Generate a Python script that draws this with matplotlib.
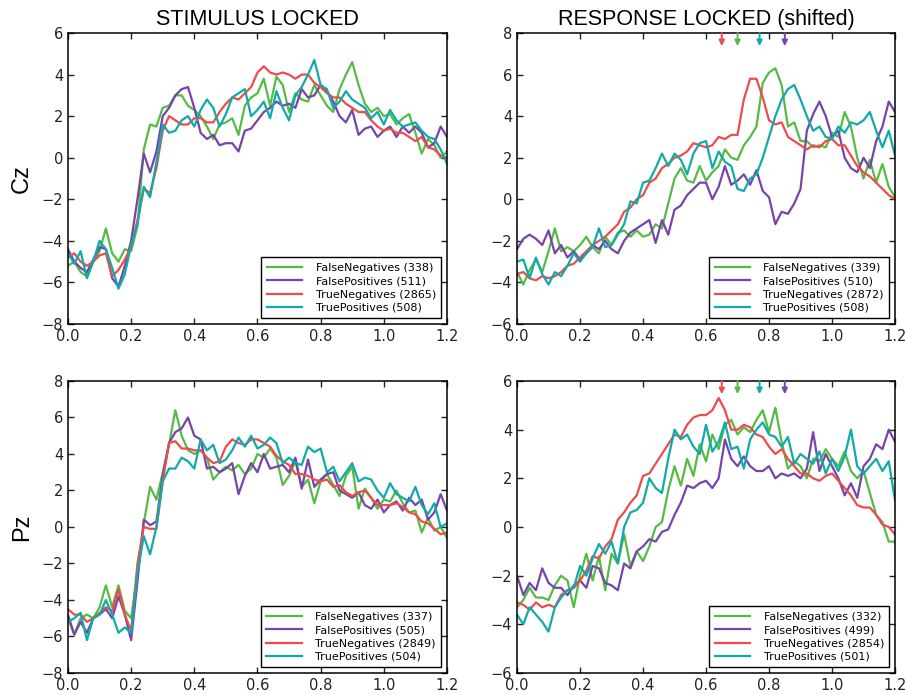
import matplotlib.pyplot as plt
import numpy as np

# time axis (s), one sample every 20 ms
t = np.linspace(0.0, 1.2, 61)

names = ['FalseNegatives', 'FalsePositives', 'TrueNegatives', 'TruePositives']
colors = ['#55bb44', '#7744aa', '#ee4c4c', '#11aaaa']

# mean response times, marked with arrows on the response locked plots
rt_marks = [0.65, 0.70, 0.77, 0.85]
rt_colors = ['#ee4c4c', '#55bb44', '#11aaaa', '#7744aa']

# ---- Cz, stimulus locked
cz_stim_fn = [-5.2, -5.0, -5.5, -5.7, -5.0, -4.5, -3.4, -4.6, -5.0, -4.4,
              -4.5, -3.3, 0.4, 1.6, 1.5, 2.4, 2.5, 3.0, 3.0, 2.5,
              2.3, 2.0, 1.5, 0.9, 1.6, 1.7, 1.9, 1.1, 2.5, 2.9,
              3.1, 3.8, 2.5, 3.9, 3.5, 2.2, 3.1, 2.8, 2.7, 3.5,
              3.0, 2.5, 2.2, 3.3, 4.0, 4.6, 3.5, 2.6, 2.2, 2.4,
              2.0, 2.1, 1.6, 1.9, 2.1, 1.2, 0.2, 0.9, 0.6, 0.0, 0.3]
cz_stim_fp = [-4.4, -5.0, -5.3, -5.5, -4.9, -4.3, -4.4, -5.8, -6.2, -5.2,
              -4.0, -2.0, 0.2, -0.7, 0.3, 2.0, 2.4, 3.0, 3.3, 3.4,
              2.4, 1.2, 0.9, 1.1, 0.6, 0.7, 0.7, 0.3, 1.3, 1.4,
              1.8, 2.2, 2.4, 2.7, 2.5, 2.6, 2.4, 3.3, 2.9, 3.0,
              3.5, 3.2, 2.7, 2.0, 1.7, 2.3, 1.1, 1.4, 1.5, 1.0,
              1.3, 1.5, 1.0, 1.5, 1.2, 1.5, 1.2, 0.5, 0.7, 1.5, 1.0]
cz_stim_tn = [-4.8, -4.6, -5.0, -5.2, -5.0, -4.7, -4.6, -5.7, -5.4, -4.9,
              -4.3, -3.0, -1.5, -1.7, -0.5, 1.3, 2.0, 1.8, 1.6, 1.6,
              1.9, 1.9, 1.7, 1.7, 2.2, 2.6, 2.9, 2.8, 3.1, 3.4,
              4.1, 4.4, 4.1, 4.0, 4.1, 4.0, 3.8, 4.0, 4.0, 3.6,
              3.4, 3.1, 2.9, 2.9, 2.6, 2.4, 2.2, 2.2, 1.8, 1.5,
              1.3, 1.4, 1.2, 1.2, 1.0, 0.8, 1.0, 0.5, 0.4, 0.1, 0.0]
cz_stim_tp = [-4.6, -5.1, -4.5, -5.8, -5.0, -4.0, -4.4, -5.3, -6.3, -5.6,
              -4.2, -3.2, -1.4, -1.9, -0.2, 1.6, 1.2, 1.3, 1.8, 2.0,
              1.5, 2.3, 2.8, 2.4, 1.5, 2.1, 2.9, 3.1, 3.3, 2.0,
              2.3, 2.7, 1.9, 3.2, 2.4, 1.8, 3.0, 3.4, 4.0, 4.7,
              3.5, 3.3, 2.4, 2.7, 3.2, 2.8, 2.6, 2.4, 1.9, 2.2,
              1.6, 2.3, 1.8, 1.5, 1.6, 1.7, 1.3, 1.0, 0.9, 0.4, -0.3]

# ---- Cz, response locked
cz_resp_fn = [-3.5, -4.1, -3.4, -2.9, -3.5, -2.5, -1.4, -2.5, -2.3, -2.5,
              -2.2, -1.8, -2.3, -2.6, -1.8, -2.2, -1.6, -1.5, -1.8, -1.5,
              -1.8, -1.7, -1.2, -1.4, -0.2, 1.0, 1.5, 0.9, 0.8, 1.6,
              0.9, 1.3, 1.6, 2.4, 2.0, 1.9, 2.6, 3.0, 3.5, 5.6,
              6.1, 6.3, 5.5, 3.5, 3.7, 2.8, 2.8, 2.5, 2.6, 2.5,
              3.2, 3.0, 4.2, 3.5, 2.0, 1.0, 1.9, 0.8, 1.7, 0.6, 0.1]
cz_resp_fp = [-2.4, -1.9, -1.7, -1.9, -2.2, -1.5, -2.6, -2.2, -2.8, -2.5,
              -2.9, -2.6, -2.2, -2.4, -2.0, -2.4, -2.6, -2.0, -1.6, -1.4,
              -1.2, -1.0, -2.1, -1.0, -1.7, -0.5, -0.3, 0.2, 0.5, 0.8,
              0.8, 0.0, 0.6, 1.6, 0.7, 0.9, 1.2, 0.7, 1.4, 0.4,
              0.1, -1.2, -0.6, -0.7, -0.2, 0.5, 3.3, 4.1, 4.7, 4.0,
              3.0, 3.3, 2.0, 1.5, 1.3, 2.0, 1.5, 2.8, 3.5, 4.7, 4.2]
cz_resp_tn = [-3.6, -3.5, -3.8, -3.9, -3.7, -3.8, -3.7, -3.5, -3.2, -3.1,
              -2.8, -2.5, -2.2, -2.0, -1.8, -1.5, -1.2, -0.6, -0.4, 0.0,
              0.2, 0.8, 1.0, 1.5, 1.7, 2.0, 2.1, 2.3, 2.7, 2.6,
              2.5, 2.6, 3.0, 2.9, 3.1, 3.1, 4.8, 5.8, 5.8, 4.9,
              3.8, 3.6, 3.7, 3.0, 2.8, 2.6, 2.4, 2.6, 2.5, 2.8,
              2.9, 2.6, 2.6, 2.1, 1.6, 1.3, 1.1, 0.8, 0.5, 0.2, 0.0]
cz_resp_tp = [-3.0, -2.9, -3.8, -2.8, -3.6, -4.1, -3.5, -3.7, -3.2, -2.6,
              -3.0, -2.6, -2.3, -1.4, -2.3, -2.2, -1.7, -1.2, -0.1, -0.2,
              0.8, 0.9, 1.5, 2.2, 1.6, 2.2, 1.9, 1.2, 2.2, 2.7,
              2.8, 1.5, 2.3, 1.8, 1.6, 0.5, 0.4, 1.0, 1.2, 2.0,
              3.0, 4.0, 4.8, 5.3, 5.5, 4.8, 4.0, 3.3, 3.5, 3.0,
              2.9, 3.5, 3.2, 3.7, 3.6, 3.8, 4.2, 3.3, 2.5, 3.3, 2.1]

# ---- Pz, stimulus locked
pz_stim_fn = [-5.0, -5.9, -5.0, -4.8, -5.0, -4.4, -3.2, -4.4, -3.2, -4.6,
              -5.0, -2.5, 0.2, 2.2, 1.5, 3.0, 4.5, 6.4, 5.0, 4.2,
              4.0, 4.2, 3.8, 2.6, 3.0, 3.3, 3.1, 3.4, 2.9, 3.2,
              4.0, 3.8, 4.3, 3.8, 2.3, 2.8, 3.6, 2.2, 2.6, 1.3,
              2.5, 2.9, 2.3, 1.7, 2.8, 3.3, 1.0, 2.1, 1.6, 1.0,
              1.5, 1.4, 2.0, 1.3, 0.8, 0.9, -0.3, 0.5, -0.2, 0.0, -0.6]
pz_stim_fp = [-4.8, -5.9, -5.2, -5.8, -5.0, -4.8, -4.5, -5.0, -3.8, -4.8,
              -6.2, -3.0, 0.4, 0.1, 0.3, 2.8, 4.6, 5.2, 5.4, 6.0,
              5.0, 4.8, 3.2, 3.3, 3.0, 3.2, 3.5, 1.8, 2.8, 3.5,
              3.0, 4.0, 3.2, 3.3, 3.4, 3.0, 3.8, 2.1, 3.7, 2.2,
              2.6, 2.9, 3.0, 2.0, 1.8, 1.6, 1.9, 1.2, 1.0, 1.5,
              0.8, 1.2, 1.4, 0.9, 1.6, 1.2, 1.5, 0.4, 0.8, 1.8, 0.9]
pz_stim_tn = [-4.5, -4.8, -4.8, -5.2, -5.0, -4.7, -4.4, -4.6, -3.4, -4.8,
              -5.7, -2.0, 0.0, -0.1, -0.1, 2.5, 4.6, 4.7, 4.3, 4.3,
              4.2, 4.2, 3.8, 3.5, 3.6, 4.4, 4.8, 4.6, 4.5, 4.8,
              4.8, 4.6, 4.4, 3.9, 3.6, 3.4, 2.9, 2.9, 2.8, 2.6,
              2.5, 2.6, 2.2, 2.3, 1.9, 1.7, 1.9, 2.0, 1.6, 1.2,
              1.2, 1.2, 1.3, 1.1, 0.8, 0.7, 0.3, 0.2, -0.1, -0.4, -0.3]
pz_stim_tp = [-5.2, -5.0, -4.7, -6.2, -5.0, -4.8, -4.0, -4.8, -5.8, -5.5,
              -5.8, -2.5, -0.5, -1.5, 0.0, 2.5, 3.2, 3.2, 3.8, 3.6,
              3.2, 4.8, 4.2, 4.5, 3.5, 3.7, 4.2, 4.9, 4.4, 5.0,
              4.3, 4.5, 4.9, 4.6, 3.5, 3.8, 3.5, 3.4, 4.4, 4.1,
              4.3, 3.0, 3.3, 2.5, 3.0, 3.5, 2.5, 2.7, 2.6, 2.0,
              1.6, 2.4, 1.8, 1.6, 1.4, 2.2, 1.2, 0.7, 1.3, 0.0, 0.2]

# ---- Pz, response locked
pz_resp_fn = [-3.3, -3.0, -2.5, -2.9, -2.9, -3.0, -2.4, -2.0, -2.2, -3.3,
              -2.0, -1.1, -2.2, -1.2, -2.6, -1.1, -1.5, -0.3, -1.6, -1.0,
              -1.4, -0.8, 0.0, 0.2, 1.5, 2.5, 1.7, 2.8, 2.1, 3.4,
              2.7, 3.8, 3.2, 4.2, 4.4, 3.8, 4.1, 3.9, 4.4, 4.8,
              3.9, 4.9, 3.5, 2.4, 2.7, 2.5, 2.0, 2.8, 2.7, 3.2,
              2.8, 2.5, 3.1, 2.3, 2.0, 2.3, 1.4, 0.5, 0.2, -0.6, -0.6]
pz_resp_fp = [-2.0, -2.8, -2.3, -2.6, -1.7, -2.3, -2.5, -2.5, -2.8, -2.4,
              -2.2, -2.5, -1.6, -1.7, -2.3, -2.4, -2.6, -1.5, -1.7, -1.0,
              -0.8, -0.5, -0.6, -0.2, -0.1, 0.5, 1.0, 1.7, 1.6, 1.8,
              1.9, 1.6, 2.0, 3.6, 2.8, 2.5, 2.9, 2.5, 2.3, 2.3,
              2.5, 2.0, 2.2, 2.1, 2.2, 2.0, 2.4, 3.9, 2.3, 3.0,
              2.5, 2.0, 1.3, 1.8, 1.2, 2.5, 2.8, 3.4, 3.2, 4.0, 3.5]
pz_resp_tn = [-3.1, -3.2, -3.4, -3.1, -3.3, -3.2, -3.3, -2.8, -2.6, -2.5,
              -2.2, -1.8, -1.2, -1.3, -0.8, -0.5, 0.3, 0.6, 1.0, 1.3,
              2.1, 2.2, 2.6, 3.0, 3.4, 3.8, 3.7, 4.2, 4.5, 4.6,
              4.6, 4.8, 5.3, 4.8, 4.0, 4.0, 4.2, 4.1, 3.8, 3.7,
              3.3, 3.0, 3.2, 2.8, 2.5, 2.2, 2.2, 2.0, 1.9, 2.1,
              2.2, 1.9, 1.6, 1.3, 0.9, 0.8, 0.8, 0.5, 0.1, 0.0, -0.3]
pz_resp_tp = [-3.6, -4.0, -3.3, -3.6, -3.9, -4.3, -3.3, -2.9, -2.6, -2.5,
              -1.6, -2.0, -1.3, -0.7, -1.1, -0.6, -1.5, 0.0, 0.6, 0.7,
              1.0, 2.0, 1.6, 1.4, 2.8, 4.0, 3.6, 3.8, 3.3, 3.0,
              4.2, 3.1, 3.5, 4.3, 3.2, 3.3, 2.4, 3.6, 4.0, 4.3,
              3.8, 3.7, 3.3, 3.7, 2.6, 3.0, 2.8, 2.6, 3.1, 2.2,
              2.8, 2.3, 2.9, 4.0, 2.5, 2.2, 2.5, 2.8, 2.3, 2.7, 1.1]

panels = [
    (cz_stim_fn, cz_stim_fp, cz_stim_tn, cz_stim_tp),
    (cz_resp_fn, cz_resp_fp, cz_resp_tn, cz_resp_tp),
    (pz_stim_fn, pz_stim_fp, pz_stim_tn, pz_stim_tp),
    (pz_resp_fn, pz_resp_fp, pz_resp_tn, pz_resp_tp),
]
counts = [
    [338, 511, 2865, 508],
    [339, 510, 2872, 508],
    [337, 505, 2849, 504],
    [332, 499, 2854, 501],
]
ylims = [(-8, 6), (-6, 8), (-8, 8), (-6, 6)]

fig = plt.figure(figsize=(9.05, 6.95), dpi=100)
boxes = [
    [0.0751, 0.5338, 0.4188, 0.4187],
    [0.5713, 0.5338, 0.4177, 0.4187],
    [0.0751, 0.0317, 0.4188, 0.4201],
    [0.5713, 0.0317, 0.4177, 0.4201],
]

for k in range(4):
    ax = fig.add_axes(boxes[k])
    for series, name, n, c in zip(panels[k], names, counts[k], colors):
        ax.plot(t, series, color=c, lw=1.6, label="%s (%d)" % (name, n))
    ax.set_xlim(0, 1.2)
    ax.set_ylim(*ylims[k])
    lo, hi = ylims[k]
    ax.set_yticks(np.arange(lo, hi + 1, 2))
    ax.set_xticks(np.arange(0, 1.21, 0.2))
    ax.tick_params(direction='in', top=True, right=True, length=4,
                   width=1, labelsize=10.5, colors='#222222')
    for s in ax.spines.values():
        s.set_linewidth(1.1)
    leg = ax.legend(loc='lower right', fontsize=8, fancybox=False,
                    framealpha=1, handlelength=3.2, handletextpad=1.2,
                    borderpad=0.5, labelspacing=0.3)
    leg.get_frame().set_edgecolor('black')
    leg.get_frame().set_linewidth(1.0)

    if k % 2 == 1:
        # arrows for the mean response times
        for x, c in zip(rt_marks, rt_colors):
            ax.annotate('', xy=(x, 0.955), xytext=(x, 1.0),
                        xycoords=('data', 'axes fraction'),
                        arrowprops=dict(arrowstyle='-|>', color=c, lw=1.4,
                                        mutation_scale=8, shrinkA=0, shrinkB=0))
    if k == 0:
        ax.set_title("STIMULUS LOCKED", fontsize=15.5, family='Liberation Sans', pad=6)
    if k == 1:
        ax.set_title("RESPONSE LOCKED (shifted)", fontsize=15.5, family='Liberation Sans', pad=6)
    if k == 0:
        ax.set_ylabel("Cz", fontsize=17, family='Liberation Sans', labelpad=6)
    if k == 2:
        ax.set_ylabel("Pz", fontsize=17, family='Liberation Sans', labelpad=6)

plt.savefig("out.png", dpi=100)
